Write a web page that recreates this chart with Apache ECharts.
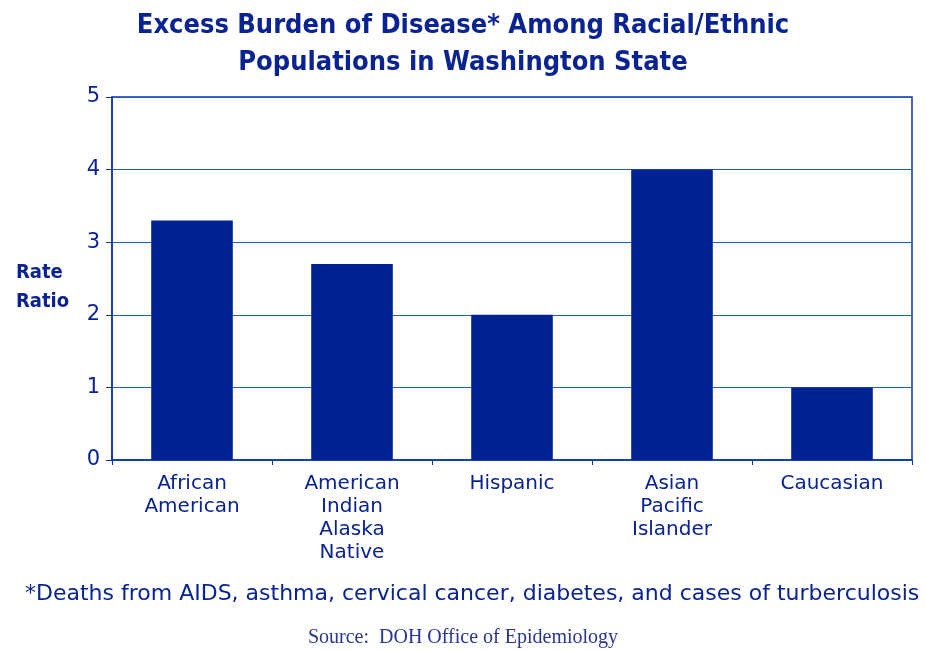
<!DOCTYPE html>
<html lang="en">
<head>
    <meta charset="UTF-8">
    <title>Excess Burden of Disease</title>
    <style>
        html, body { margin: 0; padding: 0; background: #fff; }
        #container { width: 926px; height: 650px; }
    </style>
</head>
<body>
    <div id="container"></div>
    <script src="https://cdn.jsdelivr.net/npm/echarts@6/dist/echarts.min.js"></script>
    <script>
        var groups = ['African\nAmerican', 'American\nIndian\nAlaska\nNative', 'Hispanic', 'Asian\nPacific\nIslander', 'Caucasian'];
        var rateRatio = [3.3, 2.7, 2.0, 4.0, 1.0];

        var blue = '#0a36a8';
        var navy = '#0a2392';
        var condensed = '"DejaVu Sans Condensed", "DejaVu Sans", sans-serif';
        var wide = '"DejaVu Sans", sans-serif';

        var chart = echarts.init(document.getElementById('container'));
        var option = {
            animation: false,
            title: [{
                text: 'Excess Burden of Disease* Among Racial/Ethnic\nPopulations in Washington State',
                left: 'center',
                top: 2,
                textStyle: { fontFamily: condensed, fontSize: 27, fontWeight: 'bold', color: navy, lineHeight: 37 }
            }, {
                text: 'Rate\nRatio',
                left: 11,
                top: 253,
                textStyle: { fontFamily: condensed, fontSize: 20, fontWeight: 'bold', color: navy, lineHeight: 29 }
            }, {
                text: '*Deaths from AIDS, asthma, cervical cancer, diabetes, and cases of turberculosis',
                left: 20,
                top: 578,
                textStyle: { fontFamily: wide, fontSize: 22, fontWeight: 'normal', color: navy }
            }, {
                text: 'Source:  DOH Office of Epidemiology',
                left: 'center',
                top: 623,
                textStyle: { fontFamily: '"Liberation Serif", serif', fontSize: 20, fontWeight: 'normal', color: '#2a3590' }
            }],
            grid: {
                left: 112, right: 14, top: 97, bottom: 190,
                show: true, borderColor: blue, borderWidth: 1.5
            },
            xAxis: {
                type: 'category',
                data: groups,
                axisLine: { lineStyle: { color: blue, width: 1.5 } },
                axisTick: { show: true, length: 5, lineStyle: { color: blue } },
                axisLabel: { fontFamily: wide, fontSize: 20, color: navy, lineHeight: 23, margin: 12, interval: 0 }
            },
            yAxis: {
                type: 'value',
                min: 0, max: 5, interval: 1,
                axisLine: { show: true, lineStyle: { color: blue, width: 1.5 } },
                axisTick: { show: true, length: 6, lineStyle: { color: blue } },
                axisLabel: { fontFamily: wide, fontSize: 21, color: navy, margin: 12 },
                splitLine: { lineStyle: { color: '#1a5cc0', width: 1.2 } }
            },
            series: [{
                type: 'bar',
                data: rateRatio,
                barWidth: '51%',
                itemStyle: { color: '#022293' }
            }]
        };
        chart.setOption(option);
    </script>
</body>
</html>
